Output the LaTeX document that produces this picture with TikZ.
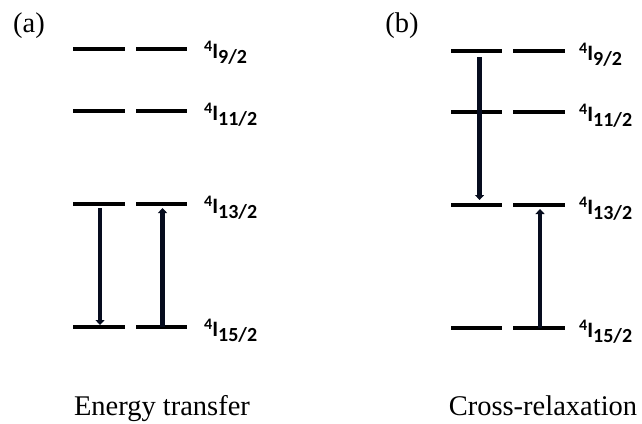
\documentclass[tikz,border=0pt]{standalone}
\usepackage{fontspec}
\setmainfont{Liberation Serif}
\newfontfamily\termfont{Carlito}
\usetikzlibrary{arrows.meta,calc}
\definecolor{arrowink}{RGB}{6,12,30}
\newcommand{\lvl}[1]{{\termfont\bfseries\fontsize{22}{22}\selectfont
  \raisebox{6.5pt}{\fontsize{16}{16}\selectfont 4}I\raisebox{-5pt}{\fontsize{20}{20}\selectfont #1}}}
\tikzset{
  level/.style={line width=3.1pt},
  transition/.style={line width=4.4pt, draw=arrowink, -{Triangle[length=5pt,width=9pt]}},
  term/.style={anchor=base west, inner sep=0pt},
  caption/.style={anchor=base, inner sep=0pt, font=\fontsize{28.5}{30}\selectfont}
}
\begin{document}
\begin{tikzpicture}[x=1pt,y=-1pt]
\useasboundingbox (0,0) rectangle (642,423);

\node[caption] (tagA) at (29,32) {(a)};
\node[caption] (tagB) at (402,32) {(b)};

\foreach \k/\y in {92/49,112/111,132/204,152/327}{
  \draw[level] (73,\y) coordinate (A\k w) -- (125,\y) coordinate (A\k e);
  \draw[level] (136,\y) coordinate (B\k w) -- (187,\y) coordinate (B\k e);
}
\foreach \k/\y in {92/51,112/112,132/205,152/328}{
  \draw[level] (451,\y) coordinate (C\k w) -- (502,\y) coordinate (C\k e);
  \draw[level] (513,\y) coordinate (D\k w) -- (565,\y) coordinate (D\k e);
}

\node[term] (tA92) at (204,58) {\lvl{9/2}};
\node[term] (tA112) at (204,120) {\lvl{11/2}};
\node[term] (tA132) at (204,213) {\lvl{13/2}};
\node[term] (tA152) at (204,336) {\lvl{15/2}};
\node[term] (tC92) at (579,60) {\lvl{9/2}};
\node[term] (tC112) at (579,121) {\lvl{11/2}};
\node[term] (tC132) at (579,214) {\lvl{13/2}};
\node[term] (tC152) at (579,337) {\lvl{15/2}};

\draw[transition] ($(A132w)!0.52!(A132e)+(0,4)$) -- ($(A152w)!0.52!(A152e)+(0,-2)$);
\draw[transition] ($(B152w)!0.52!(B152e)$) -- ($(B132w)!0.52!(B132e)+(0,4)$);
\draw[transition] ($(C92w)!0.56!(C92e)+(0,6)$) -- ($(C132w)!0.56!(C132e)+(0,-5)$);
\draw[transition] ($(D152w)!0.52!(D152e)$) -- ($(D132w)!0.52!(D132e)+(0,4)$);

\node[caption] (capA) at (162,415) {Energy transfer};
\node[caption] (capB) at (543,415) {Cross-relaxation};
\end{tikzpicture}
\end{document}
